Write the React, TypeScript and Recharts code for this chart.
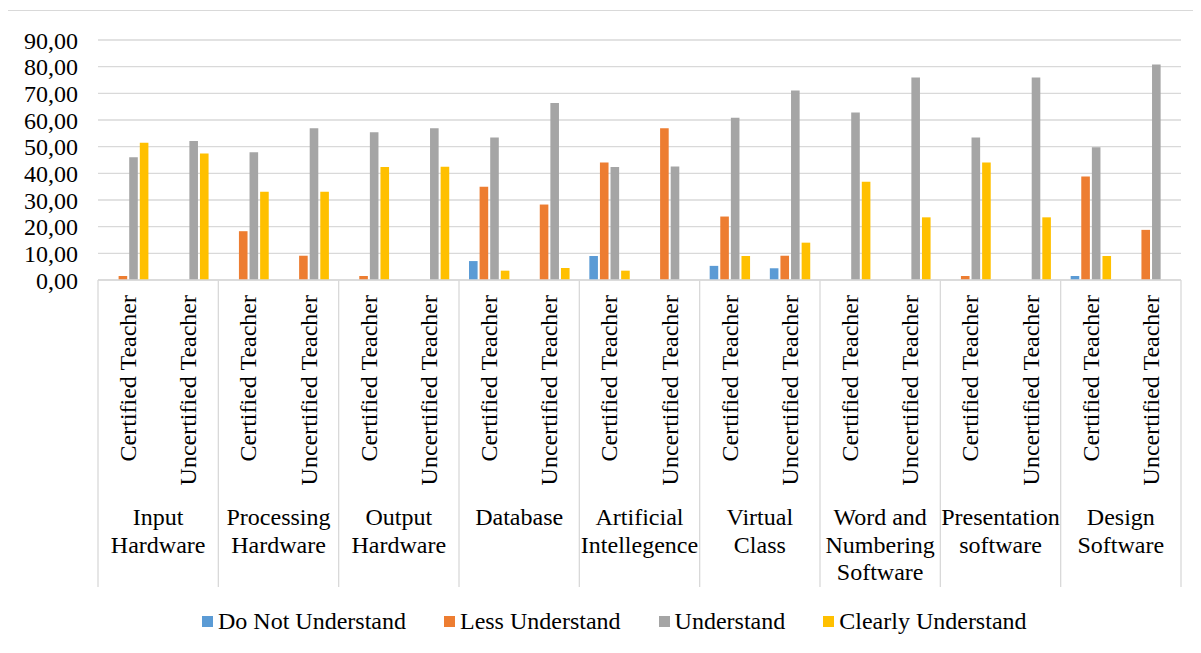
import React from 'react';
import { BarChart, Bar, XAxis, YAxis, CartesianGrid } from 'recharts';

const groups = [
  'Input\nHardware',
  'Processing\nHardware',
  'Output\nHardware',
  'Database',
  'Artificial\nIntellegence',
  'Virtual\nClass',
  'Word and\nNumbering\nSoftware',
  'Presentation\nsoftware',
  'Design\nSoftware',
];
const teachers = ['Certified Teacher', 'Uncertified Teacher'];

const doNotUnderstand = [0, 0, 0, 0, 0, 0, 7.1, 0, 9, 0, 5.3, 4.4, 0, 0, 0, 0, 1.5, 0];
const lessUnderstand = [1.5, 0, 18.3, 9.1, 1.5, 0, 35, 28.3, 44.1, 56.9, 23.8, 9.1, 0, 0, 1.5, 0, 38.8, 18.8];
const understand = [46, 52.1, 47.9, 56.9, 55.4, 56.9, 53.4, 66.4, 42.4, 42.6, 60.8, 71.1, 62.8, 75.9, 53.4, 75.9, 49.8, 80.8];
const clearlyUnderstand = [51.5, 47.4, 33.1, 33.1, 42.4, 42.5, 3.5, 4.5, 3.5, 0, 9, 14, 36.8, 23.5, 44.1, 23.5, 9, 0];

const yTicks = [0, 10, 20, 30, 40, 50, 60, 70, 80, 90];

const series = [
  { key: 'dnu', name: 'Do Not Understand', color: '#5B9BD5', values: doNotUnderstand },
  { key: 'lu', name: 'Less Understand', color: '#ED7D31', values: lessUnderstand },
  { key: 'u', name: 'Understand', color: '#A5A5A5', values: understand },
  { key: 'cu', name: 'Clearly Understand', color: '#FFC000', values: clearlyUnderstand },
];

const data = groups.flatMap((g, gi) =>
  teachers.map((t, ti) => {
    const i = gi * teachers.length + ti;
    const row: Record<string, string | number> = { id: `${gi}-${ti}`, group: g, teacher: t };
    series.forEach((s) => (row[s.key] = s.values[i]));
    return row;
  })
);

const FONT = '"Liberation Serif", "Times New Roman", serif';
const FS = 24;
const CHART_W = 1180;
const CHART_H = 630;
const MARGIN = { top: 29, right: 7, bottom: 51, left: 20 };
const Y_W = 70;
const PLOT_W = CHART_W - MARGIN.left - MARGIN.right - Y_W;
const BAND = PLOT_W / data.length;
const GRID = '#d9d9d9';

function CategoryTick(props: any) {
  const { x, y, payload } = props;
  const index: number = payload?.index ?? props.index ?? 0;
  const row = data[index];
  const first = index % teachers.length === 0;
  const last = index === data.length - 1;
  const lines = String(row.group).split('\n');
  const gx = x + BAND / 2;
  return (
    <g>
      <text
        x={x}
        y={y + 15}
        transform={`rotate(-90 ${x} ${y + 15})`}
        textAnchor='end'
        dominantBaseline='central'
        fontFamily={FONT}
        fontSize={FS}
        fill='#000'
      >
        {row.teacher}
      </text>
      {first && (
        <>
          <line x1={x - BAND / 2} x2={x - BAND / 2} y1={y} y2={y + 307} stroke={GRID} strokeWidth={1.3} />
          <text x={gx} y={y + 245} textAnchor='middle' fontFamily={FONT} fontSize={FS} fill='#000'>
            {lines.map((l, li) => (
              <tspan key={li} x={gx} dy={li === 0 ? 0 : 27.5}>
                {l}
              </tspan>
            ))}
          </text>
        </>
      )}
      {last && <line x1={x + BAND / 2} x2={x + BAND / 2} y1={y} y2={y + 307} stroke={GRID} strokeWidth={1.3} />}
    </g>
  );
}

export default function App() {
  return (
    <div
      style={{
        position: 'relative',
        width: 1188,
        height: 645,
        marginLeft: -1,
        marginTop: 2,
        border: `1px solid ${GRID}`,
        borderRight: 'none',
        borderBottom: 'none',
        boxSizing: 'border-box',
      }}
    >
      <BarChart width={CHART_W} height={CHART_H} data={data} margin={MARGIN} barSize={8.6} barGap={2}>
        <CartesianGrid vertical={false} stroke={GRID} strokeWidth={1.3} />
        <XAxis
          dataKey='id'
          interval={0}
          height={310}
          tickLine={false}
          tickSize={0}
          tickMargin={0}
          axisLine={{ stroke: GRID, strokeWidth: 1.3 }}
          tick={<CategoryTick />}
        />
        <YAxis
          width={Y_W}
          domain={[0, 90]}
          ticks={yTicks}
          interval={0}
          axisLine={false}
          tickLine={false}
          tickSize={0}
          tickMargin={20}
          tickFormatter={(v: number) => v.toFixed(2).replace('.', ',')}
          tick={{ fill: '#000', fontFamily: FONT, fontSize: FS }}
        />
        {series.map((s) => (
          <Bar key={s.key} dataKey={s.key} name={s.name} fill={s.color} isAnimationActive={false} />
        ))}
      </BarChart>
      <div
        style={{
          position: 'absolute',
          top: 596,
          left: 194,
          display: 'flex',
          alignItems: 'center',
          fontFamily: FONT,
          fontSize: FS,
          lineHeight: '28px',
          color: '#000',
          whiteSpace: 'nowrap',
        }}
      >
        {series.map((s) => (
          <div key={s.key} style={{ display: 'flex', alignItems: 'center', marginRight: 38 }}>
            <span style={{ width: 11, height: 11, background: s.color, marginRight: 5, display: 'inline-block' }} />
            <span>{s.name}</span>
          </div>
        ))}
      </div>
    </div>
  );
}
